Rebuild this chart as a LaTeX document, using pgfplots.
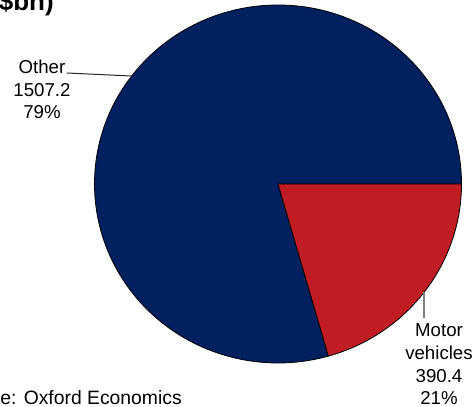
\documentclass[border=0pt]{standalone}
\usepackage{pgfplots}
\pgfplotsset{compat=1.18}
\usepackage{pgfplotstable}
\usepackage{fontspec}
\setmainfont{Liberation Sans}
\definecolor{pieblue}{RGB}{0,32,96}
\definecolor{piered}{RGB}{192,28,36}
\pgfplotstableread{
name value
Other 1507.2
Motor 390.4
}\piedata
\begin{document}
\begin{tikzpicture}[x=0.75pt,y=0.75pt]
\pgfplotstablegetelem{0}{value}\of\piedata \let\valA\pgfplotsretval
\pgfplotstablegetelem{1}{value}\of\piedata \let\valB\pgfplotsretval
\pgfmathsetmacro\fracB{\valB/(\valA+\valB)}
\pgfmathsetmacro\angB{360*\fracB}
\pgfmathsetmacro\angA{360-\angB}
\useasboundingbox (0,0) rectangle (476,407);
\clip (0,0) rectangle (476,407);
\begin{axis}[at={(0,0)}, anchor=south west, scale only axis,
  width=357pt, height=305.25pt, xmin=0, xmax=476, ymin=0, ymax=407,
  hide axis, clip=false]
\filldraw[fill=pieblue, draw=black, line width=0.6pt] (axis cs:278,223) -- ++(0:137.625pt)
  arc[start angle=0, end angle=\angA, x radius=137.625pt, y radius=134.25pt] -- cycle;
\filldraw[fill=piered, draw=black, line width=0.6pt] (axis cs:278,223) -- ++(0:137.625pt)
  arc[start angle=0, end angle=-\angB, x radius=137.625pt, y radius=134.25pt] -- cycle;
\end{axis}
\draw[black!85, line width=0.75pt] (67,334) -- (131,331);
\draw[gray, line width=1pt] (424,115) -- (424,89);
\begin{scope}[every node/.style={inner sep=0pt, font=\fontsize{14}{16}\selectfont}]
\node[anchor=base] at (42,333) {Other};
\node[anchor=base] at (42,310.5) {1507.2};
\node[anchor=base] at (42,288.5) {79\%};
\node[anchor=base] at (439,70) {Motor};
\node[anchor=base] at (439,47) {vehicles};
\node[anchor=base] at (439,24) {390.4};
\node[anchor=base] at (439,2) {21\%};
\end{scope}
\node[anchor=base east, inner sep=0pt, font=\bfseries\fontsize{19.5}{22}\selectfont] at (54,396) {(\$bn)};
\node[anchor=base east, inner sep=0pt, font=\fontsize{14.5}{16}\selectfont] at (182,2.5) {Source: Oxford Economics};
\end{tikzpicture}
\end{document}
